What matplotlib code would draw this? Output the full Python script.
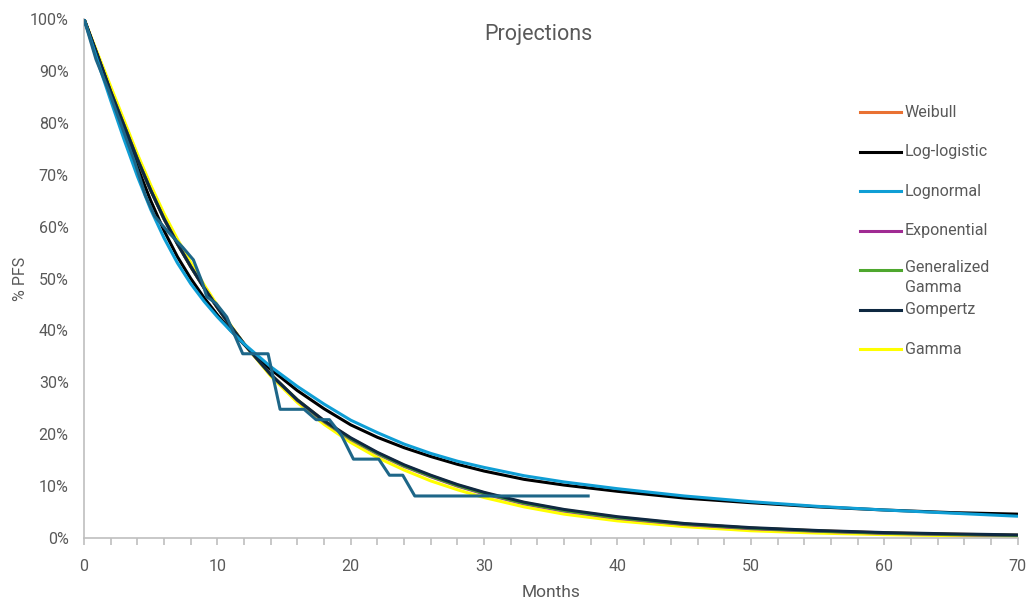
import matplotlib
matplotlib.use('Agg')
import matplotlib.pyplot as plt
from matplotlib.ticker import PercentFormatter, MultipleLocator
from matplotlib.lines import Line2D

plt.rcParams['font.family'] = ['Roboto', 'DejaVu Sans']

# months at which the fitted curves are tabulated
months = [0, 1, 2, 3, 4, 5, 6, 7, 8, 9, 10, 11, 12, 14, 16, 18, 20, 22, 24, 26,
          28, 30, 33, 36, 40, 45, 50, 55, 60, 65, 70]

# % PFS for each fitted distribution
weibull = [100, 93, 86, 79.5, 73, 67, 61.5, 56.7, 52.3, 48.2, 44.4, 40.8, 37.4, 31.5, 26.6,
           22.6, 19.2, 16.4, 14.0, 12.0, 10.2, 8.7, 6.8, 5.4, 4.0, 2.7, 1.9, 1.4, 1.0, 0.75, 0.55]
log_logistic = [100, 93, 85.8, 78.5, 71.5, 65, 59.2, 54.2, 50, 46.3, 43, 40, 37.3, 32.5, 28.4,
                24.9, 21.8, 19.4, 17.4, 15.7, 14.2, 12.9, 11.3, 10.2, 9.0, 7.7, 6.8, 6.0, 5.4, 4.9, 4.6]
lognormal = [100, 92, 84.3, 76.8, 69.7, 63.3, 57.8, 53, 49, 45.6, 42.6, 39.9, 37.4, 33.0, 29.2,
             25.8, 22.7, 20.3, 18.1, 16.3, 14.8, 13.6, 12.0, 10.8, 9.5, 8.1, 7.0, 6.1, 5.4, 4.8, 4.2]
exponential = [100, 93, 86, 79.5, 73, 67, 61.5, 56.7, 52.3, 48.2, 44.4, 40.8, 37.4, 31.5, 26.5,
               22.4, 19.0, 16.2, 13.8, 11.8, 10.0, 8.5, 6.6, 5.2, 3.8, 2.6, 1.8, 1.3, 0.9, 0.65, 0.45]
gen_gamma = [100, 93, 86, 79.5, 73, 67, 61.5, 56.7, 52.3, 48.2, 44.4, 40.8, 37.4, 31.5, 26.6,
             22.5, 19.1, 16.3, 13.9, 11.9, 10.1, 8.6, 6.7, 5.3, 3.9, 2.7, 1.9, 1.35, 0.95, 0.7, 0.5]
gompertz = [100, 93, 86, 79.5, 73, 67, 61.5, 56.7, 52.3, 48.2, 44.4, 40.8, 37.4, 31.5, 26.6,
            22.6, 19.3, 16.5, 14.1, 12.1, 10.3, 8.8, 6.9, 5.5, 4.1, 2.8, 2.0, 1.45, 1.05, 0.8, 0.6]
gamma = [100, 93.5, 87, 80.5, 74, 68, 62.5, 57.6, 53.1, 48.8, 44.8, 41, 37.4, 31.2, 26.1,
         21.9, 18.4, 15.5, 13.1, 11.0, 9.3, 7.8, 6.0, 4.6, 3.3, 2.2, 1.4, 0.95, 0.65, 0.45, 0.3]

# Kaplan-Meier estimate
km_months = [0, 0.9, 1.8, 2.8, 3.8, 4.6, 5.3, 6.3, 7.4, 8.2, 8.9, 9.2, 9.9, 10.7, 11.9,
             13.8, 14.7, 16.5, 17.4, 18.4, 19.3, 20.2, 22.1, 22.9, 23.9, 24.8, 37.8]
km_pfs = [100, 92.2, 86.5, 79.5, 72.5, 66, 62, 59, 56, 53.6, 49, 46.5, 45.2, 42.6, 35.5,
          35.5, 24.8, 24.8, 22.8, 22.8, 19.8, 15.2, 15.2, 12.1, 12.1, 8.1, 8.1]

series = [
    ('Weibull', weibull, '#E97132', 2),
    ('Log-logistic', log_logistic, '#000000', 3),
    ('Lognormal', lognormal, '#0F9ED5', 4),
    ('Exponential', exponential, '#A02B93', 2),
    ('Generalized\nGamma', gen_gamma, '#4EA72E', 2),
    ('Gompertz', gompertz, '#0E2841', 3),
    ('Gamma', gamma, '#FFFF00', 1),
]

grey = '#595959'

fig = plt.figure(figsize=(10.31, 6.01), dpi=100)
ax = fig.add_axes([0.0815, 0.1048, 0.9055, 0.8636])

for name, vals, color, z in series:
    ax.plot(months, vals, color=color, lw=2.2, zorder=z, solid_capstyle='round')
ax.plot(km_months, km_pfs, color='#1D6688', lw=2.2, zorder=5)

ax.set_xlim(0, 70)
ax.set_ylim(0, 100)
ax.yaxis.set_major_locator(MultipleLocator(10))
ax.yaxis.set_major_formatter(PercentFormatter(decimals=0))
ax.xaxis.set_major_locator(MultipleLocator(10))
ax.xaxis.set_minor_locator(MultipleLocator(2))

for s in ['top', 'right']:
    ax.spines[s].set_visible(False)
for s in ['left', 'bottom']:
    ax.spines[s].set_color('#BFBFBF')
    ax.spines[s].set_linewidth(1.2)

ax.tick_params(axis='y', length=0, labelsize=11.5, labelcolor=grey, pad=11)
ax.tick_params(axis='x', which='major', length=5, color='#BFBFBF', width=1.2,
               labelsize=11.5, labelcolor=grey, pad=10)
ax.tick_params(axis='x', which='minor', length=5, color='#BFBFBF', width=1.2)

ax.set_xlabel('Months', fontsize=12.5, color=grey, labelpad=8)
ax.set_ylabel('% PFS', fontsize=11.5, color=grey, labelpad=1)
fig.text(0.522, 0.943, 'Projections', ha='center', va='center', fontsize=15.5, color=grey)

# legend entries stacked down the right side
y0 = 1 - 112 / 601
step = 39.5 / 601
for i, (name, vals, color, z) in enumerate(series):
    y = y0 - i * step
    fig.add_artist(Line2D([860 / 1031, 901 / 1031], [y, y], color=color, lw=2.2))
    if '\n' in name:
        fig.text(905 / 1031, y + 10 / 601, name, ha='left', va='top',
                 fontsize=11.5, color=grey, linespacing=1.45)
    else:
        fig.text(905 / 1031, y, name, ha='left', va='center', fontsize=11.5, color=grey)

fig.savefig('out.png', dpi=100)
